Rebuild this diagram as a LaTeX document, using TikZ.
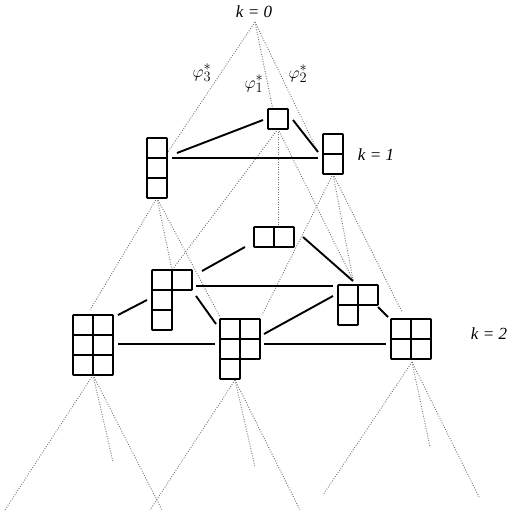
\documentclass[tikz,border=0pt]{standalone}
\usepackage{fontspec}
\setmainfont{Liberation Serif}
\usetikzlibrary{calc}
\newcommand\drawcells[2]{\foreach \i/\j in {#2} {\draw[cellbox] ([shift={(20*\i,20*\j)}]#1.north west) rectangle ([shift={(20*\i+20,20*\j+20)}]#1.north west);}}
\begin{document}
\begin{tikzpicture}[x=1pt,y=-1pt,
  shapebox/.style={inner sep=0pt,outer sep=0pt,draw=none},
  cellbox/.style={draw=black,line width=1.9pt,rounded corners=0.8pt},
  edge/.style={draw=black,line width=1.9pt},
  dotline/.style={draw=black!55,line width=0.9pt,dash pattern=on 0.9pt off 1.6pt},
  lab/.style={font=\fontsize{17}{19}\selectfont\itshape,inner sep=0pt},
  philab/.style={font=\fontsize{19}{21}\selectfont,inner sep=0pt}]
\useasboundingbox (0,0) rectangle (512,512);
% shapes
\node[shapebox,minimum width=20pt,minimum height=20pt] (top1) at (278,119) {};
\node[shapebox,minimum width=20pt,minimum height=60pt] (left1) at (157,168) {};
\node[shapebox,minimum width=20pt,minimum height=40pt] (right1) at (333,154) {};
\node[shapebox,minimum width=40pt,minimum height=20pt] (mid2) at (274,237) {};
\node[shapebox,minimum width=40pt,minimum height=60pt] (L) at (172,300) {};
\node[shapebox,minimum width=40pt,minimum height=40pt] (R) at (358,305) {};
\node[shapebox,minimum width=40pt,minimum height=60pt] (bigL) at (93,345) {};
\node[shapebox,minimum width=40pt,minimum height=60pt] (midB) at (240,349) {};
\node[shapebox,minimum width=40pt,minimum height=40pt] (right2) at (411,339) {};
\coordinate (apex) at (255,22);
% labels
\node[lab] (k0) at (254,12) {k = 0};
\node[lab] (k1) at (376,155) {k = 1};
\node[lab] (k2) at (489,334) {k = 2};
\node[philab] (p3) at (202,73) {$\varphi_3^*$};
\node[philab] (p1) at (254,84) {$\varphi_1^*$};
\node[philab] (p2) at (298,74) {$\varphi_2^*$};
% dotted tree lines
\draw[dotline] (apex) -- ([shift={(1,14)}]left1.north east);
\draw[dotline] (apex) -- ([shift={(-5,1)}]top1.north);
\draw[dotline] (apex) -- ([shift={(-5,-2)}]right1.west);
\draw[dotline] (left1.south) -- ([shift={(-3,-5)}]bigL.north);
\draw[dotline] (left1.south) -- (L.north);
\draw[dotline] (left1.south) -- ([shift={(0,-2)}]midB.north west);
\draw[dotline] (top1.south) -- (L.north);
\draw[dotline] (top1.south) -- ([shift={(4,-1)}]mid2.north);
\draw[dotline] (top1.south) -- ([shift={(-5,-5)}]R.north);
\draw[dotline] (right1.south) -- ([shift={(2,-4)}]midB.north east);
\draw[dotline] (right1.south) -- ([shift={(-5,-5)}]R.north);
\draw[dotline] (right1.south) -- ([shift={(-9,-7)}]right2.north);
\coordinate (b1) at (5,510);
\coordinate (b2) at (113,462);
\coordinate (b3) at (162,510);
\coordinate (b4) at (150,510);
\coordinate (b5) at (255,467);
\coordinate (b6) at (300,510);
\coordinate (b7) at (323,495);
\coordinate (b8) at (430,447);
\coordinate (b9) at (479,497);
\draw[dotline] (bigL.south) -- (b1);
\draw[dotline] (bigL.south) -- (b2);
\draw[dotline] (bigL.south) -- (b3);
\draw[dotline] ([shift={(-5,1)}]midB.south) -- (b4);
\draw[dotline] ([shift={(-5,1)}]midB.south) -- (b5);
\draw[dotline] ([shift={(-5,1)}]midB.south) -- (b6);
\draw[dotline] ([shift={(1,3)}]right2.south) -- (b7);
\draw[dotline] ([shift={(1,3)}]right2.south) -- (b8);
\draw[dotline] ([shift={(1,3)}]right2.south) -- (b9);
% cells
\drawcells{top1}{0/0}
\drawcells{left1}{0/0,0/1,0/2}
\drawcells{right1}{0/0,0/1}
\drawcells{mid2}{0/0,1/0}
\drawcells{L}{0/0,1/0,0/1,0/2}
\drawcells{R}{0/0,1/0,0/1}
\drawcells{bigL}{0/0,1/0,0/1,1/1,0/2,1/2}
\drawcells{midB}{0/0,1/0,0/1,1/1,0/2}
\drawcells{right2}{0/0,1/0,0/1,1/1}
% solid edges
\draw[edge] ([shift={(10,-15)}]left1.east) -- ([shift={(-5,1)}]top1.west);
\draw[edge] ([shift={(5,-10)}]left1.east) -- ([shift={(-5,4)}]right1.west);
\draw[edge] ([shift={(5,1)}]top1.east) -- ([shift={(-5,-2)}]right1.west);
\draw[edge] ([shift={(-9,0)}]mid2.south west) -- ([shift={(10,1)}]L.north east);
\draw[edge] ([shift={(9,0)}]mid2.east) -- ([shift={(-5,-4)}]R.north);
\draw[edge] ([shift={(4,16)}]L.north east) -- ([shift={(-5,1)}]R.north west);
\draw[edge] ([shift={(-5,0)}]L.west) -- ([shift={(5,0)}]bigL.north east);
\draw[edge] ([shift={(4,26)}]L.north east) -- ([shift={(-4,5)}]midB.north west);
\draw[edge] ([shift={(-5,11)}]R.north west) -- ([shift={(4,15)}]midB.north east);
\draw[edge] ([shift={(0,2)}]R.east) -- ([shift={(-3,-2)}]right2.north west);
\draw[edge] ([shift={(5,-1)}]bigL.east) -- ([shift={(-5,25)}]midB.north west);
\draw[edge] ([shift={(4,25)}]midB.north east) -- ([shift={(-5,5)}]right2.west);
\end{tikzpicture}
\end{document}
